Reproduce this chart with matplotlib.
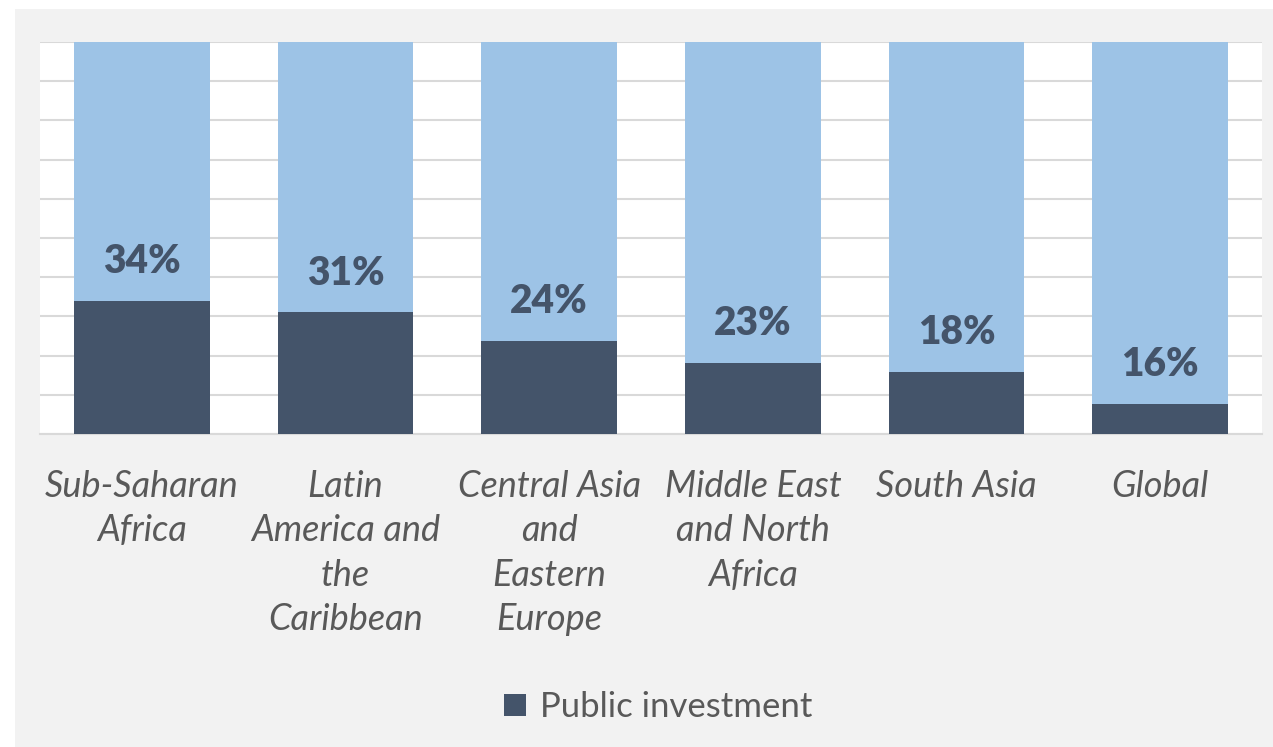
import numpy as np
import matplotlib.pyplot as plt
from matplotlib.patches import Rectangle

# data
regions = ["Sub-Saharan\nAfrica", "Latin\nAmerica and\nthe\nCaribbean",
           "Central Asia\nand\nEastern\nEurope", "Middle East\nand North\nAfrica",
           "South Asia", "Global"]
public_share = [0.34, 0.31, 0.237, 0.181, 0.158, 0.077]
label_values = [34, 31, 24, 23, 18, 16]

dark = '#44546a'
light = '#9dc3e6'
bg = '#f2f2f2'

plt.rcParams['font.family'] = ['Lato', 'DejaVu Sans']

fig = plt.figure(figsize=(12.73, 7.47), dpi=100)
fig.patch.set_facecolor('white')
fig.patches.append(Rectangle((15 / 1273, 0), 1, 1 - 9 / 747, transform=fig.transFigure,
                             facecolor=bg, edgecolor='none', zorder=-10))

ax = fig.add_axes([40 / 1273, 1 - 434 / 747, 1222 / 1273, 392 / 747])
ax.set_facecolor('white')

x = np.arange(len(regions))
rest = [1 - v for v in public_share]
ax.bar(x, public_share, width=0.665, color=dark, label='Public investment', zorder=3)
ax.bar(x, rest, width=0.665, bottom=public_share, color=light, zorder=3)

for xi, v, lab in zip(x, public_share, label_values):
    ax.text(xi, v + 0.1, f'{lab}%', ha='center', va='center', fontsize=28,
            fontweight='heavy', color=dark, zorder=4)

ax.set_xlim(-0.5, len(regions) - 0.5)
ax.set_ylim(0, 1)
ax.set_yticks(np.linspace(0, 1, 11))
ax.yaxis.grid(True, color='#d9d9d9', linewidth=1.5, zorder=0)
ax.tick_params(axis='y', left=False, labelleft=False)
ax.tick_params(axis='x', length=0, pad=26)
ax.set_xticks(x)
ax.set_xticklabels(regions, fontsize=26, style='italic', color='#595959', linespacing=1.42,
                   va='top')
for s in ['left', 'right', 'top']:
    ax.spines[s].set_visible(False)
ax.spines['bottom'].set_color('#d9d9d9')
ax.spines['bottom'].set_linewidth(1.5)

fig.legend(loc='center', bbox_to_anchor=(658 / 1273, 1 - 707 / 747), frameon=False,
           fontsize=25, labelcolor='#595959', handlelength=0.62, handleheight=0.62,
           handletextpad=0.4)

plt.savefig('out.png', dpi=100, facecolor=fig.get_facecolor())
